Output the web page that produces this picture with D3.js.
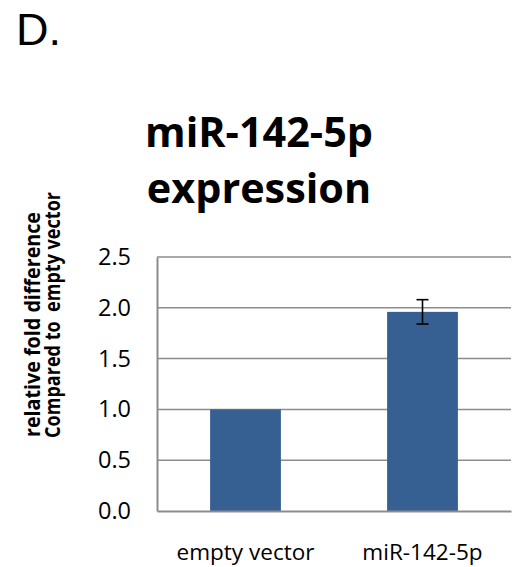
<!DOCTYPE html>
<html>
<head>
<meta charset="utf-8">
<script src="https://cdn.jsdelivr.net/npm/d3@7"></script>
<style>
  html, body { margin: 0; padding: 0; background: #fff; }
  svg { display: block; }
</style>
</head>
<body>
<svg id="chart" width="513" height="567"></svg>
<script>
// Data
const categories = ["empty vector", "miR-142-5p"];
const foldChange = [1.0, 1.96];
const errorSize = [null, 0.12];
const yTicks = [0.0, 0.5, 1.0, 1.5, 2.0, 2.5];
const titleLines = ["miR-142-5p", "expression"];
const yTitleLines = ["relative fold difference", "Compared to  empty vector"];

const svg = d3.select("#chart");
const plot = { left: 157, right: 511, top: 257, bottom: 511 };

const sans = "'Open Sans', 'Noto Sans', sans-serif";
const gridColor = "#8c8c8c";
const barColor = "#376092";

// Scale text so its rendered width equals the given width
function fitWidth(sel, width) {
  const size = parseFloat(sel.attr("font-size"));
  const len = sel.node().getComputedTextLength();
  sel.attr("font-size", (size * width / len).toFixed(2));
}

const x = d3.scaleBand()
  .domain(categories)
  .range([plot.left, plot.right])
  .paddingInner(0.6)
  .paddingOuter(0.3);

const y = d3.scaleLinear()
  .domain([0, 2.5])
  .range([plot.bottom, plot.top]);

// Panel letter
svg.append("text")
  .attr("x", 16).attr("y", 45)
  .attr("font-family", "'Liberation Sans', Arial, sans-serif")
  .attr("font-size", 45)
  .attr("fill", "#000")
  .text("D.");

// Title
const titleX = 259;
const title = svg.append("g")
  .attr("font-family", sans)
  .attr("font-weight", "bold")
  .attr("text-anchor", "middle")
  .attr("fill", "#000");
const t1 = title.append("text").attr("x", titleX).attr("y", 147).attr("font-size", 30).text(titleLines[0]);
fitWidth(t1, 228);
title.append("text").attr("x", titleX).attr("y", 203).attr("font-size", t1.attr("font-size")).text(titleLines[1]);

// Gridlines
svg.append("g")
  .selectAll("line")
  .data(yTicks.filter(d => d > 0))
  .join("line")
  .attr("x1", plot.left).attr("x2", plot.right)
  .attr("y1", d => y(d)).attr("y2", d => y(d))
  .attr("stroke", gridColor)
  .attr("stroke-width", 1.5);

// Bars
svg.append("g")
  .selectAll("rect")
  .data(categories)
  .join("rect")
  .attr("x", d => x(d))
  .attr("width", x.bandwidth())
  .attr("y", (d, i) => y(foldChange[i]))
  .attr("height", (d, i) => y(0) - y(foldChange[i]))
  .attr("fill", barColor);

// Error bars
const errData = categories.map((c, i) => ({ c, v: foldChange[i], e: errorSize[i] })).filter(d => d.e != null);
const eg = svg.append("g").attr("stroke", "#000").attr("stroke-width", 1.6);
errData.forEach(d => {
  const cx = x(d.c) + x.bandwidth() / 2;
  eg.append("line").attr("x1", cx).attr("x2", cx).attr("y1", y(d.v + d.e)).attr("y2", y(d.v - d.e));
  eg.append("line").attr("x1", cx - 6).attr("x2", cx + 6).attr("y1", y(d.v + d.e)).attr("y2", y(d.v + d.e));
  eg.append("line").attr("x1", cx - 6).attr("x2", cx + 6).attr("y1", y(d.v - d.e)).attr("y2", y(d.v - d.e));
});

// Y axis
const yAxis = svg.append("g")
  .attr("transform", `translate(${plot.left},0)`)
  .call(d3.axisLeft(y).tickValues(yTicks).tickFormat(d3.format(".1f")).tickSize(0).tickPadding(26));
yAxis.select(".domain").attr("stroke", gridColor).attr("stroke-width", 2);
yAxis.selectAll("text")
  .attr("font-family", sans)
  .attr("font-size", 20)
  .attr("fill", "#000");
fitWidth(yAxis.select(".tick text"), 33);
yAxis.selectAll("text").attr("font-size", yAxis.select(".tick text").attr("font-size"));

// X axis
const xAxis = svg.append("g")
  .attr("transform", `translate(0,${plot.bottom})`)
  .call(d3.axisBottom(x).tickSize(0).tickPadding(33));
xAxis.select(".domain").attr("stroke", gridColor).attr("stroke-width", 2);
xAxis.selectAll("text")
  .attr("font-family", sans)
  .attr("font-size", 18)
  .attr("fill", "#000");
fitWidth(xAxis.select(".tick text"), 138);
xAxis.selectAll("text").attr("font-size", xAxis.select(".tick text").attr("font-size"));

// Y axis title (two lines, reading upward)
const yt = svg.append("g")
  .attr("font-family", sans)
  .attr("font-weight", "bold")
  .attr("font-size", 21)
  .attr("fill", "#000")
  .attr("text-anchor", "start");
yt.append("text")
  .attr("transform", "translate(40,437) rotate(-90)")
  .attr("textLength", 225)
  .attr("lengthAdjust", "spacingAndGlyphs")
  .text(yTitleLines[0]);
yt.append("text")
  .attr("transform", "translate(60,438) rotate(-90)")
  .attr("textLength", 246)
  .attr("lengthAdjust", "spacingAndGlyphs")
  .style("white-space", "pre")
  .text(yTitleLines[1]);
</script>
</body>
</html>
